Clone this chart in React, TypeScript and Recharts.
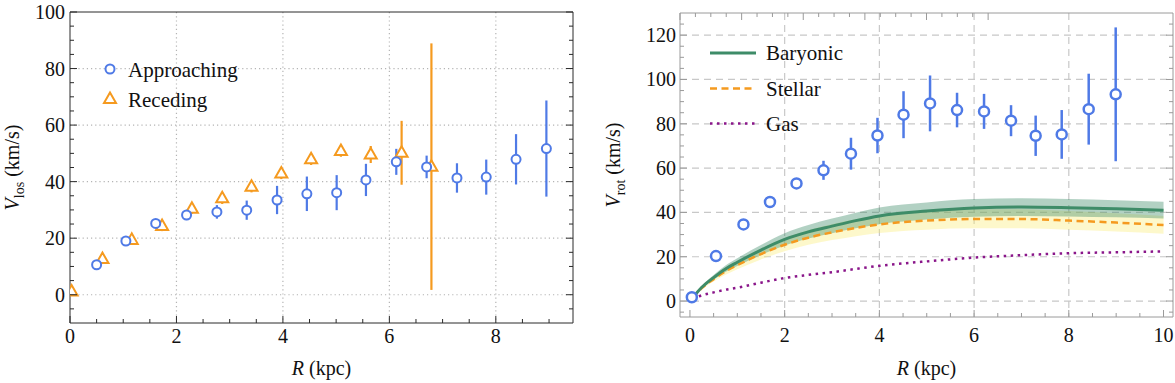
import { ComposedChart, Scatter, ErrorBar, Line, Area, XAxis, YAxis, CartesianGrid, Legend, Label } from 'recharts';

const FONT = '"Liberation Serif", "DejaVu Serif", serif';
const BLUE = '#4f7ae6';
const ORANGE = '#f59a1f';
const GREEN = '#3e8c68';
const PURPLE = '#8a168a';

// left panel: line-of-sight velocity
const apprR = [0.5, 1.05, 1.61, 2.19, 2.76, 3.32, 3.89, 4.45, 5.01, 5.56, 6.13, 6.7, 7.27, 7.82, 8.38, 8.95];
const apprV = [10.6, 19.0, 25.2, 28.2, 29.3, 29.9, 33.5, 35.7, 36.1, 40.6, 47.0, 45.2, 41.3, 41.6, 47.9, 51.7];
const apprErr = [0.8, 1, 1.2, 1.8, 2.4, 3.4, 5, 6.1, 6.2, 5.7, 4.6, 4, 5.2, 6.2, 8.9, 17];

const recR = [0.03, 0.61, 1.16, 1.73, 2.29, 2.86, 3.41, 3.97, 4.53, 5.09, 5.65, 6.23, 6.79];
const recV = [1.1, 12.6, 19.4, 24.3, 30.4, 34.1, 38.2, 42.9, 47.9, 50.8, 49.6, 50.2, 45.3];
const recErr = [1, 1.5, 1.5, 1.8, 1.8, 2, 2, 2, 2, 2, 3, 11.3, 43.6];

const losXTicks = [0, 0.5, 1, 1.5, 2, 2.5, 3, 3.5, 4, 4.5, 5, 5.5, 6, 6.5, 7, 7.5, 8, 8.5, 9];
const losYTicks = [-5, 0, 5, 10, 15, 20, 25, 30, 35, 40, 45, 50, 55, 60, 65, 70, 75, 80, 85, 90, 95, 100];
const losGridX = [2, 4, 6, 8];
const losGridY = [0, 20, 40, 60, 80];

// right panel: rotation curve
const rotR = [0.04, 0.55, 1.13, 1.69, 2.25, 2.82, 3.4, 3.96, 4.51, 5.07, 5.64, 6.21, 6.78, 7.3, 7.85, 8.42, 8.99];
const rotV = [1.7, 20.3, 34.6, 44.7, 53.1, 59.0, 66.5, 74.7, 84.1, 89.2, 86.2, 85.6, 81.4, 74.6, 75.2, 86.6, 93.3];
const rotErr = [0.5, 1, 1.2, 1.5, 2, 4.3, 7.2, 8, 10.6, 12.6, 7.8, 7.9, 7, 9.1, 11, 16, 30.2];

const curveR = [0.05, 0.25, 0.5, 0.75, 1, 1.5, 2, 2.5, 3, 3.5, 4, 5, 6, 7, 8, 9, 10];
const baryonic = [1.2, 6.2, 10.6, 14.5, 17.5, 23, 27.8, 31.2, 33.8, 36.3, 38.4, 40.6, 42.0, 42.4, 42.1, 41.6, 41.0];
const barLo = [1.0, 5.6, 9.6, 13.1, 15.8, 20.8, 25.1, 28.2, 30.6, 32.8, 34.7, 36.8, 38.0, 38.4, 38.2, 37.8, 37.3];
const barHi = [1.4, 6.8, 11.7, 16.0, 19.3, 25.3, 30.6, 34.3, 37.2, 39.9, 42.2, 44.5, 46.0, 46.4, 46.1, 45.5, 44.8];
const stellar = [1.1, 5.8, 9.9, 13.4, 16.2, 21.2, 25.4, 28.6, 31.0, 33.0, 34.6, 36.3, 37.0, 37.0, 36.3, 35.4, 34.3];
const stLo = [0.95, 5.1, 8.8, 11.9, 14.4, 18.8, 22.5, 25.4, 27.5, 29.3, 30.7, 32.2, 32.8, 32.8, 32.2, 31.4, 30.4];
const stHi = [1.25, 6.5, 11.1, 15.0, 18.1, 23.7, 28.4, 32.0, 34.7, 36.9, 38.7, 40.6, 41.4, 41.4, 40.6, 39.6, 38.4];
const gas = [1.0, 2.6, 3.9, 5.1, 6.0, 8.3, 10.4, 11.8, 13.0, 14.5, 15.9, 17.9, 19.6, 20.7, 21.6, 22.0, 22.4];

const rotXTicks = [0, 0.5, 1, 1.5, 2, 2.5, 3, 3.5, 4, 4.5, 5, 5.5, 6, 6.5, 7, 7.5, 8, 8.5, 9, 9.5, 10];
const rotYTicks = [-5, 0, 5, 10, 15, 20, 25, 30, 35, 40, 45, 50, 55, 60, 65, 70, 75, 80, 85, 90, 95, 100, 105, 110, 115, 120, 125];
const rotGridX = [2, 4, 6, 8];
const rotGridY = [0, 20, 40, 60, 80, 100, 120];

const approaching = apprR.map((r, i) => ({ r, v: apprV[i], err: apprErr[i] }));
const receding = recR.map((r, i) => ({ r, v: recV[i], err: recErr[i] }));
const rotPoints = rotR.map((r, i) => ({ r, v: rotV[i], err: rotErr[i] }));
const curves = curveR.map((r, i) => ({
  r,
  baryonic: baryonic[i],
  barBand: [barLo[i], barHi[i]],
  stellar: stellar[i],
  stBand: [stLo[i], stHi[i]],
  gas: gas[i],
}));

type Side = 'bottom' | 'left' | 'top' | 'right';

// inward ticks, long on majors; labels only on the bottom/left majors
function makeTick(side: Side, major: number, color: string, label: boolean, gap: number) {
  return (props: any) => {
    const { x, y, payload } = props;
    const v = payload.value;
    const isMajor = Math.abs(v / major - Math.round(v / major)) < 1e-6;
    const len = isMajor ? 7 : 4;
    let line;
    if (side === 'bottom') line = <line x1={x} y1={y} x2={x} y2={y - len} stroke={color} />;
    else if (side === 'top') line = <line x1={x} y1={y} x2={x} y2={y + len} stroke={color} />;
    else if (side === 'left') line = <line x1={x} y1={y} x2={x + len} y2={y} stroke={color} />;
    else line = <line x1={x} y1={y} x2={x - len} y2={y} stroke={color} />;
    let text = null;
    if (label && isMajor) {
      if (side === 'bottom')
        text = <text x={x} y={y + gap} textAnchor="middle" fontFamily={FONT} fontSize={20} fill="#111">{v}</text>;
      else
        text = <text x={x - gap} y={y} dy="0.35em" textAnchor="end" fontFamily={FONT} fontSize={20} fill="#111">{v}</text>;
    }
    return <g>{line}{text}</g>;
  };
}

const circleShape = (r: number, sw: number) => (p: any) => (
  <circle cx={p.cx} cy={p.cy} r={r} fill="#fff" stroke={BLUE} strokeWidth={sw} />
);

const triangleShape = (p: any) => (
  <path
    d={`M${p.cx},${p.cy - 6.5} L${p.cx - 6},${p.cy + 4} L${p.cx + 6},${p.cy + 4} Z`}
    fill="#fff"
    stroke={ORANGE}
    strokeWidth={2}
  />
);

const xTitle = (dy: number) => (p: any) => {
  const { x, y, width } = p.viewBox;
  return (
    <text x={x + width / 2} y={y + dy} textAnchor="middle" fontFamily={FONT} fontSize={20} fill="#111">
      <tspan fontStyle="italic">R</tspan> (kpc)
    </text>
  );
};

const yTitle = (dx: number, sub: string) => (p: any) => {
  const { x, y, height } = p.viewBox;
  const cx = x - dx;
  const cy = y + height / 2;
  return (
    <text x={cx} y={cy} transform={`rotate(-90 ${cx} ${cy})`} textAnchor="middle" fontFamily={FONT} fontSize={20} fill="#111">
      <tspan fontStyle="italic">V</tspan>
      <tspan fontSize={14} dy={5}>{sub}</tspan>
      <tspan dy={-5}> (km/s)</tspan>
    </text>
  );
};

const losLegend = () => (
  <svg width={200} height={60} style={{ overflow: 'visible' }}>
    <circle cx={10} cy={10} r={4.5} fill="#fff" stroke={BLUE} strokeWidth={2} />
    <text x={28} y={18} fontFamily={FONT} fontSize={21} fill="#111">Approaching</text>
    <path d="M10,33.5 L4,44 L16,44 Z" fill="#fff" stroke={ORANGE} strokeWidth={2} />
    <text x={28} y={48} fontFamily={FONT} fontSize={21} fill="#111">Receding</text>
  </svg>
);

const rotLegend = () => (
  <svg width={160} height={100} style={{ overflow: 'visible' }}>
    <line x1={0} y1={10} x2={46} y2={10} stroke={GREEN} strokeWidth={3} />
    <text x={56} y={17} fontFamily={FONT} fontSize={21} fill="#111">Baryonic</text>
    <line x1={0} y1={45.5} x2={46} y2={45.5} stroke={ORANGE} strokeWidth={2.5} strokeDasharray="7 4.5" />
    <text x={56} y={53} fontFamily={FONT} fontSize={21} fill="#111">Stellar</text>
    <line x1={0} y1={80.5} x2={46} y2={80.5} stroke={PURPLE} strokeWidth={2.5} strokeDasharray="2.5 4.5" />
    <text x={56} y={88} fontFamily={FONT} fontSize={21} fill="#111">Gas</text>
  </svg>
);

function LosChart() {
  const c = '#2a2a2a';
  return (
    <ComposedChart width={590} height={383} margin={{ top: 11, right: 16, bottom: 59, left: 69 }}>
      <CartesianGrid stroke="#b4b4b4" strokeWidth={1.2} strokeDasharray="1.2 3" verticalValues={losGridX} horizontalValues={losGridY} />
      <XAxis dataKey="r" type="number" domain={[0, 9.45]} allowDataOverflow ticks={losXTicks} interval={0} height={1} tickSize={0} tickMargin={0} tickLine={false} axisLine={{ stroke: c }} tick={makeTick('bottom', 2, c, true, 20)}>
        <Label content={xTitle(52)} />
      </XAxis>
      <XAxis xAxisId="top" orientation="top" type="number" domain={[0, 9.45]} allowDataOverflow ticks={losXTicks} interval={0} height={1} tickSize={0} tickMargin={0} tickLine={false} axisLine={{ stroke: c }} tick={makeTick('top', 2, c, false, 0)} />
      <YAxis type="number" domain={[-10, 100]} allowDataOverflow ticks={losYTicks} interval={0} width={1} tickSize={0} tickMargin={0} tickLine={false} axisLine={{ stroke: c }} tick={makeTick('left', 20, c, true, 5)}>
        <Label content={yTitle(50, 'los')} />
      </YAxis>
      <YAxis yAxisId="right" orientation="right" type="number" domain={[-10, 100]} allowDataOverflow ticks={losYTicks} interval={0} width={1} tickSize={0} tickMargin={0} tickLine={false} axisLine={{ stroke: c }} tick={makeTick('right', 20, c, false, 0)} />
      <Scatter data={receding} dataKey="v" shape={triangleShape} isAnimationActive={false}>
        <ErrorBar dataKey="err" direction="y" width={0} stroke={ORANGE} strokeWidth={2.2} />
      </Scatter>
      <Scatter data={approaching} dataKey="v" shape={circleShape(4.5, 2)} isAnimationActive={false}>
        <ErrorBar dataKey="err" direction="y" width={0} stroke={BLUE} strokeWidth={2.2} />
      </Scatter>
      <Legend layout="horizontal" verticalAlign="middle" align="center" wrapperStyle={{ left: 100, top: 59, width: 200, height: 60 }} content={losLegend} />
    </ComposedChart>
  );
}

function RotChart() {
  const c = '#9a9a9a';
  return (
    <ComposedChart width={585} height={383} data={curves} margin={{ top: 12, right: 1, bottom: 65, left: 89 }}>
      <CartesianGrid stroke="#c8c8c8" strokeWidth={1.2} strokeDasharray="7 5" verticalValues={rotGridX} horizontalValues={rotGridY} />
      <XAxis dataKey="r" type="number" domain={[-0.21, 10.2]} allowDataOverflow ticks={rotXTicks} interval={0} height={1} tickSize={0} tickMargin={0} tickLine={false} axisLine={{ stroke: c }} tick={makeTick('bottom', 2, c, true, 25)}>
        <Label content={xTitle(58)} />
      </XAxis>
      <XAxis xAxisId="top" orientation="top" type="number" domain={[-0.21, 10.2]} allowDataOverflow ticks={rotXTicks} interval={0} height={1} tickSize={0} tickMargin={0} tickLine={false} axisLine={{ stroke: c }} tick={makeTick('top', 2, c, false, 0)} />
      <YAxis type="number" domain={[-7.2, 130]} allowDataOverflow ticks={rotYTicks} interval={0} width={1} tickSize={0} tickMargin={0} tickLine={false} axisLine={{ stroke: c }} tick={makeTick('left', 20, c, true, 4)}>
        <Label content={yTitle(59, 'rot')} />
      </YAxis>
      <YAxis yAxisId="right" orientation="right" type="number" domain={[-7.2, 130]} allowDataOverflow ticks={rotYTicks} interval={0} width={1} tickSize={0} tickMargin={0} tickLine={false} axisLine={{ stroke: c }} tick={makeTick('right', 20, c, false, 0)} />
      <Area dataKey="stBand" type="monotone" stroke="none" fill="#f8ea6a" fillOpacity={0.35} isAnimationActive={false} />
      <Area dataKey="barBand" type="monotone" stroke="none" fill={GREEN} fillOpacity={0.4} isAnimationActive={false} />
      <Line dataKey="gas" type="monotone" stroke={PURPLE} strokeWidth={2.5} strokeDasharray="2.5 4.5" dot={false} isAnimationActive={false} />
      <Line dataKey="stellar" type="monotone" stroke={ORANGE} strokeWidth={2.5} strokeDasharray="7 4.5" dot={false} isAnimationActive={false} />
      <Line dataKey="baryonic" type="monotone" stroke={GREEN} strokeWidth={3} dot={false} isAnimationActive={false} />
      <Scatter data={rotPoints} dataKey="v" shape={circleShape(5, 2.5)} isAnimationActive={false}>
        <ErrorBar dataKey="err" direction="y" width={0} stroke={BLUE} strokeWidth={2.5} />
      </Scatter>
      <Legend layout="horizontal" verticalAlign="middle" align="center" wrapperStyle={{ left: 120, top: 43, width: 160, height: 100 }} content={rotLegend} />
    </ComposedChart>
  );
}

export default function App() {
  return (
    <div style={{ position: 'absolute', left: 0, top: 0, width: 1175, height: 383, background: '#fff' }}>
      <div style={{ position: 'absolute', left: 0, top: 0 }}>
        <LosChart />
      </div>
      <div style={{ position: 'absolute', left: 590, top: 0 }}>
        <RotChart />
      </div>
    </div>
  );
}
